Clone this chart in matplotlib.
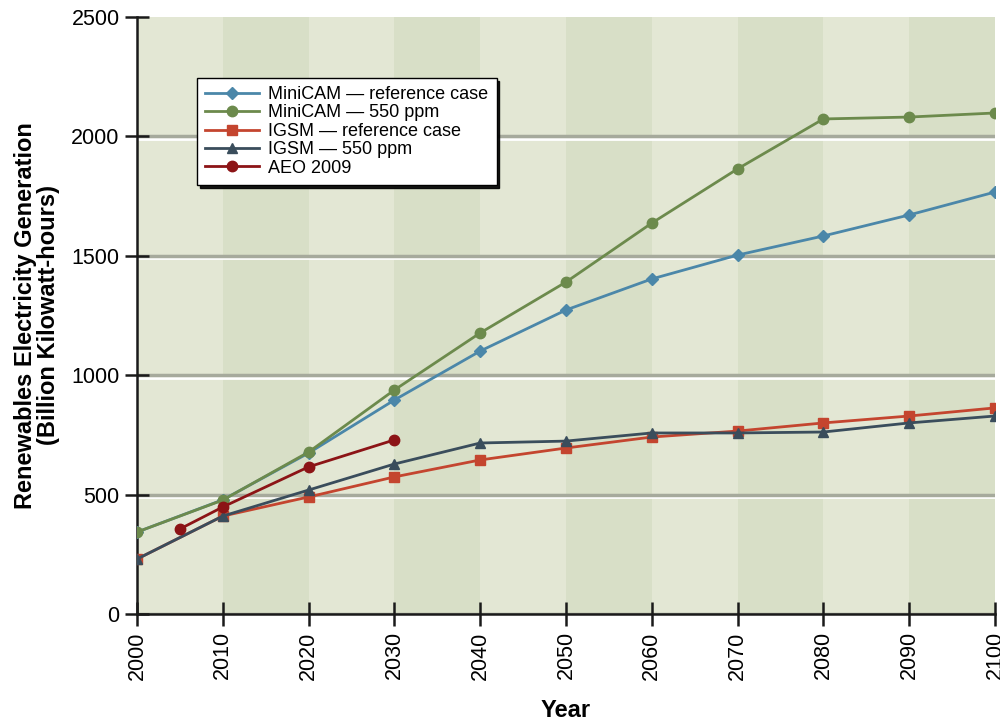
import matplotlib.pyplot as plt
import matplotlib.transforms as mtrans

plt.rcParams['font.family'] = ['Liberation Sans', 'DejaVu Sans']

years = [2000, 2010, 2020, 2030, 2040, 2050, 2060, 2070, 2080, 2090, 2100]
minicam_ref = [343, 478, 674, 896, 1101, 1273, 1403, 1503, 1583, 1671, 1767]
minicam_550 = [343, 477, 678, 938, 1177, 1390, 1637, 1864, 2073, 2081, 2098]
igsm_ref = [230, 410, 490, 574, 645, 695, 741, 766, 800, 829, 863]
igsm_550 = [230, 410, 519, 628, 716, 724, 758, 758, 762, 800, 829]
aeo_years = [2005, 2010, 2020, 2030]
aeo_2009 = [356, 448, 616, 729]

fig = plt.figure(figsize=(10, 7.23), dpi=100)
ax = fig.add_axes([0.137, 0.1508, 0.858, 0.8257])

# alternating decade bands
for i in range(len(years) - 1):
    col = '#e3e7d4' if i % 2 == 0 else '#d8dfc7'
    ax.axvspan(years[i], years[i + 1], color=col, lw=0, zorder=0)

# gray grid line with a white line just under it
blend = mtrans.blended_transform_factory(ax.transAxes, ax.transData)
white_off = mtrans.offset_copy(blend, fig=fig, x=0, y=-2.5, units='dots')
for yv in [0, 500, 1000, 1500, 2000]:
    if yv > 0:
        ax.plot([0, 1], [yv, yv], color='white', lw=2, zorder=1, transform=white_off)
    ax.axhline(yv, color='#a6aa9c', lw=2.5, zorder=1)

kw = dict(lw=2, markersize=7.5, zorder=3)
ax.plot(years, minicam_ref, color='#4b87a9', marker='D', markersize=6.5, lw=2, zorder=3, label='MiniCAM — reference case')
ax.plot(years, minicam_550, color='#6c8a4c', marker='o', label='MiniCAM — 550 ppm', **kw)
ax.plot(years, igsm_ref, color='#c4452f', marker='s', label='IGSM — reference case', **kw)
ax.plot(years, igsm_550, color='#3a4d5c', marker='^', label='IGSM — 550 ppm', **kw)
ax.plot(aeo_years, aeo_2009, color='#8c1416', marker='o', label='AEO 2009', **kw)

ax.set_xlim(2000, 2100)
ax.set_ylim(0, 2500)
ax.set_xticks(years)
ax.set_yticks([0, 500, 1000, 1500, 2000, 2500])
ax.tick_params(axis='x', labelrotation=90)
ax.tick_params(direction='inout', length=17, width=1.8, labelsize=15.5, color='#1a1a1a', pad=4)

for s in ['top', 'right']:
    ax.spines[s].set_visible(False)
for s in ['left', 'bottom']:
    ax.spines[s].set_linewidth(1.8)
    ax.spines[s].set_color('#1a1a1a')

ax.set_xlabel('Year', fontsize=17, fontweight='bold', labelpad=14)
ax.set_ylabel('Renewables Electricity Generation\n(Billion Kilowatt-hours)', fontsize=17,
              fontweight='bold', linespacing=1.0, labelpad=8)

leg = ax.legend(loc='upper left', bbox_to_anchor=(0.07, 0.898), borderaxespad=0,
                fontsize=13, handlelength=3.0, labelspacing=0.08, handletextpad=0.5,
                borderpad=0.45, fancybox=False, framealpha=1, edgecolor='black',
                shadow={'color': 'black', 'alpha': 0.9})
leg.get_frame().set_linewidth(1.0)

fig.savefig('out.png', dpi=100)
